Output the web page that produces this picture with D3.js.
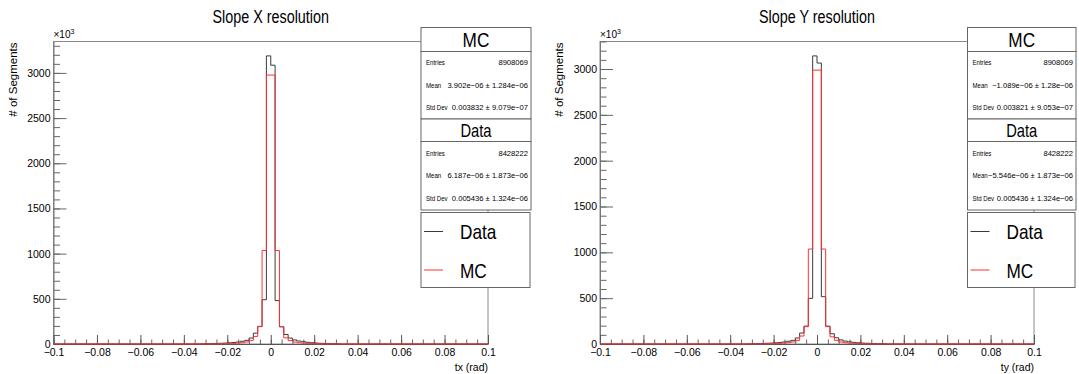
<!DOCTYPE html>
<html>
<head>
<meta charset="utf-8">
<script src="https://cdn.jsdelivr.net/npm/d3@7"></script>
<style>
  body { margin: 0; background: #fff; }
  svg { display: block; font-family: "Liberation Sans", Arial, Helvetica, sans-serif; }
</style>
</head>
<body>
<svg id="chart" width="1079" height="374"></svg>
<script>
// histogram binning: 100 bins of 0.002 on [-0.1, 0.1]; only the central 32 are non-zero
const xDomain = [-0.1, 0.1];
const binWidth = 0.002;
const firstBin = -0.032;

// counts per bin (x10^3), bins from -0.032 to +0.032
const dataX = [2, 3, 4, 6, 8, 10, 13, 17, 22, 30, 40, 66, 120, 195, 490, 3188,
               3085, 480, 190, 105, 66, 45, 33, 25, 19, 14, 11, 8, 6, 4, 3, 2];
const mcX   = [0.5, 0.7, 1, 1.5, 2, 3, 5, 7, 10, 14, 22, 40, 84, 192, 1034, 2976,
               2976, 1034, 192, 68, 38, 22, 14, 10, 7, 5, 3, 2, 1.5, 1, 0.7, 0.5];
const dataY = [2, 3, 4, 6, 8, 10, 13, 17, 22, 30, 40, 66, 120, 195, 498, 3143,
               3065, 516, 195, 112, 68, 45, 32, 24, 18, 13, 10, 8, 6, 4, 3, 2];
const mcY   = [0.5, 0.7, 1, 1.5, 2, 3, 5, 7, 10, 14, 22, 40, 87, 189, 1036, 2988,
               2988, 1036, 189, 78, 40, 22, 14, 10, 7, 5, 3, 2, 1.5, 1, 0.7, 0.5];

const xMajor = [-0.1, -0.08, -0.06, -0.04, -0.02, 0, 0.02, 0.04, 0.06, 0.08, 0.1];
const xLabels = ["\u22120.1", "\u22120.08", "\u22120.06", "\u22120.04", "\u22120.02", "0",
                 "0.02", "0.04", "0.06", "0.08", "0.1"];
const yMajor = [0, 500, 1000, 1500, 2000, 2500, 3000];

const titles = ["Slope X resolution", "Slope Y resolution"];
const xTitles = ["tx (rad)", "ty (rad)"];
const statNames = ["Entries", "Mean", "Std Dev"];
const statsMC = [
  ["8908069", "3.902e\u221206 \u00b1 1.284e\u221206", "0.003832 \u00b1 9.079e\u221207"],
  ["8908069", "\u22121.089e\u221206 \u00b1 1.28e\u221206", "0.003821 \u00b1 9.053e\u221207"]
];
const statsData = [
  ["8428222", "6.187e\u221206 \u00b1 1.873e\u221206", "0.005436 \u00b1 1.324e\u221206"],
  ["8428222", "\u22125.546e\u221206 \u00b1 1.873e\u221206", "0.005436 \u00b1 1.324e\u221206"]
];

const panels = [
  { left: 53.5, right: 488, box: 421, boxW: 110, data: dataX, mc: mcX },
  { left: 600, right: 1034, box: 967.5, boxW: 108.5, data: dataY, mc: mcY }
];
const frameTop = 41.5, frameBottom = 344;

const svg = d3.select('#chart');

// text drawn narrower than the font (ROOT-ish helvetica)
function narrowText(g, x, y, str, size, anchor, squeeze) {
  return g.append('text')
    .attr('transform', `translate(${x},${y}) scale(${squeeze || 0.82},1)`)
    .attr('text-anchor', anchor || 'start')
    .attr('font-size', size)
    .text(str);
}

panels.forEach((p, k) => {
  const g = svg.append('g');
  const ymax = d3.max(p.data.concat(p.mc)) * 1.05;

  const x = d3.scaleLinear().domain(xDomain).range([p.left, p.right]);
  const y = d3.scaleLinear().domain([0, ymax]).range([frameBottom, frameTop]);

  // frame
  g.append('rect')
    .attr('x', p.left).attr('y', frameTop)
    .attr('width', p.right - p.left).attr('height', frameBottom - frameTop)
    .attr('fill', 'none').attr('stroke', '#8a8a8a').attr('stroke-width', 1);

  // title
  narrowText(g, (p.left + p.right) / 2, 23, titles[k], 17.5, 'middle');

  // y axis: minor then major ticks, pointing inward
  const yMinor = d3.range(0, ymax, 100);
  g.append('g')
    .attr('transform', `translate(${p.left},0)`)
    .call(d3.axisLeft(y).tickValues(yMinor).tickFormat('').tickSizeInner(-6.5).tickSizeOuter(0))
    .call(s => s.select('.domain').remove());
  g.append('g')
    .attr('transform', `translate(${p.left},0)`)
    .call(d3.axisLeft(y).tickValues(yMajor).tickFormat(d3.format('d'))
      .tickSizeInner(-13).tickSizeOuter(0).tickPadding(3))
    .call(s => s.select('.domain').attr('stroke', '#777'))
    .call(s => s.selectAll('text').attr('font-size', 10.5).attr('fill', '#000'));
  g.selectAll('.tick line').attr('stroke', '#666');

  // x axis
  const xMinor = d3.range(-0.1, 0.1001, 0.005);
  g.append('g')
    .attr('transform', `translate(0,${frameBottom})`)
    .call(d3.axisBottom(x).tickValues(xMinor).tickFormat('').tickSizeInner(-4.5).tickSizeOuter(0))
    .call(s => s.select('.domain').remove())
    .call(s => s.selectAll('.tick line').attr('stroke', '#666'));
  g.append('g')
    .attr('transform', `translate(0,${frameBottom})`)
    .call(d3.axisBottom(x).tickValues(xMajor).tickFormat((d, i) => xLabels[i])
      .tickSizeInner(-9).tickSizeOuter(0).tickPadding(5))
    .call(s => s.select('.domain').attr('stroke', '#555'))
    .call(s => s.selectAll('.tick line').attr('stroke', '#555'))
    .call(s => s.selectAll('text').attr('font-size', 10.5).attr('fill', '#000'));

  // axis titles
  g.append('text')
    .attr('x', p.right).attr('y', 371)
    .attr('text-anchor', 'end').attr('font-size', 10.5)
    .text(xTitles[k]);
  g.append('text')
    .attr('transform', `translate(${p.left - 37},${frameTop + 1}) rotate(-90)`)
    .attr('text-anchor', 'end').attr('font-size', 11.5)
    .text('# of Segments');
  const mult = g.append('text')
    .attr('x', p.left).attr('y', 38).attr('font-size', 10);
  mult.append('tspan').text('\u00d710');
  mult.append('tspan').attr('dy', -4).attr('font-size', 7).text('3');

  // histograms as step lines
  const stepLine = d3.line().x(d => x(d[0])).y(d => y(d[1]));
  const steps = vals => {
    const pts = [[xDomain[0], 0], [firstBin, 0]];
    vals.forEach((v, i) => {
      const lo = firstBin + i * binWidth;
      pts.push([lo, v], [lo + binWidth, v]);
    });
    pts.push([firstBin + vals.length * binWidth, 0], [xDomain[1], 0]);
    return pts;
  };
  g.append('path').datum(steps(p.data))
    .attr('d', stepLine).attr('fill', 'none')
    .attr('stroke', '#3a3a3a').attr('stroke-width', 1);
  g.append('path').datum(steps(p.mc))
    .attr('d', stepLine).attr('fill', 'none')
    .attr('stroke', '#ff3030').attr('stroke-width', 1);

  // stats boxes
  const bx = p.box, bw = p.boxW;
  const box = (y0, y1) => g.append('rect')
    .attr('x', bx).attr('y', y0).attr('width', bw).attr('height', y1 - y0)
    .attr('fill', '#fff').attr('stroke', '#666').attr('stroke-width', 1);
  const statBlock = (name, rows, hTop, hBot, bBot, hSize) => {
    box(hTop, hBot);
    box(hBot, bBot);
    narrowText(g, bx + bw / 2, (hTop + hBot) / 2, name, hSize, 'middle').attr('dy', '0.36em');
    const step = (bBot - hBot) / 3;
    statNames.forEach((s, i) => {
      const ty = hBot + step * (i + 0.5);
      narrowText(g, bx + 5, ty, s, 7.8, 'start', 0.78).attr('dy', '0.35em');
      g.append('text').attr('x', bx + bw - 3).attr('y', ty).attr('dy', '0.35em')
        .attr('text-anchor', 'end').attr('font-size', 7.6).text(rows[i]);
    });
  };
  statBlock('MC', statsMC[k], 27.5, 51.5, 119, 21);
  statBlock('Data', statsData[k], 119, 141.5, 210, 18);

  // legend
  box(212.5, 287.5).attr('width', bw - 1);
  const legend = [['Data', '#3a3a3a', 231.5], ['MC', '#ff3030', 270]];
  legend.forEach(([name, col, ly]) => {
    g.append('line')
      .attr('x1', bx + 3).attr('x2', bx + 22).attr('y1', ly).attr('y2', ly)
      .attr('stroke', col).attr('stroke-width', 1);
    narrowText(g, bx + 39, ly, name, 21).attr('dy', '0.36em');
  });
});
</script>
</body>
</html>
